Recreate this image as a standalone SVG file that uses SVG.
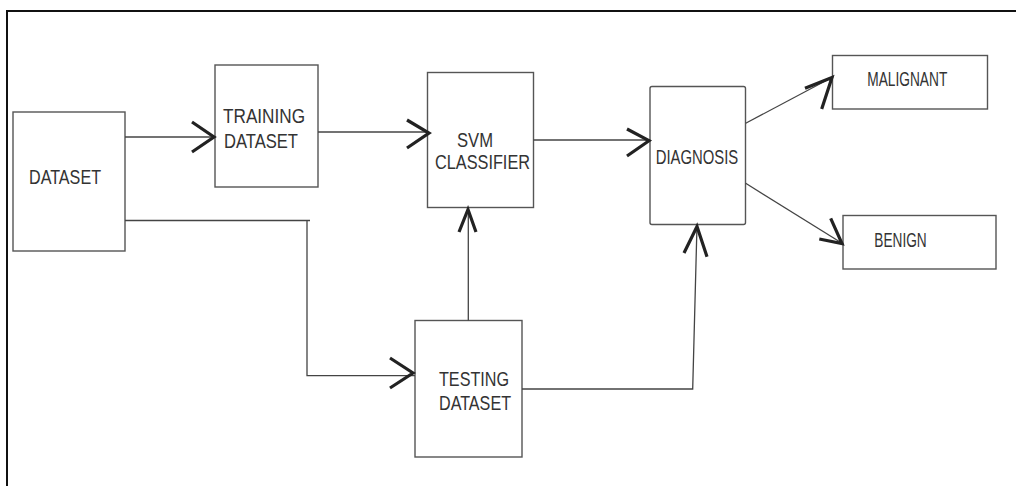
<svg xmlns="http://www.w3.org/2000/svg" width="1016" height="486" viewBox="0 0 1016 486">
  <style>
    .box { fill: #ffffff; stroke: #555555; stroke-width: 1.4; }
    .lbl { font-family: "Liberation Sans", Arial, sans-serif; font-size: 20px; fill: #333333; }
    .wire { fill: none; stroke: #444444; stroke-width: 1.3; }
    .head { fill: none; stroke: #222222; stroke-width: 3.2; stroke-linecap: butt; stroke-linejoin: miter; }
  </style>
  <rect width="1016" height="486" fill="#ffffff"/>
  <!-- frame: top and left edges only -->
  <path d="M7,486 V11 H1016" fill="none" stroke="#111111" stroke-width="2"/>

  <g id="dataset">
    <rect class="box" x="13" y="112" width="112" height="139"/>
    <text class="lbl" x="29" y="184" textLength="72" lengthAdjust="spacingAndGlyphs">DATASET</text>
  </g>
  <g id="training-dataset">
    <rect class="box" x="215" y="65" width="103" height="122"/>
    <text class="lbl" x="223" y="123" font-size="21" textLength="82" lengthAdjust="spacingAndGlyphs">TRAINING</text>
    <text class="lbl" x="224" y="147.5" font-size="21" textLength="74" lengthAdjust="spacingAndGlyphs">DATASET</text>
  </g>
  <g id="svm-classifier">
    <rect class="box" x="427.5" y="72.5" width="106" height="135"/>
    <text class="lbl" x="457" y="146.7" textLength="36" lengthAdjust="spacingAndGlyphs">SVM</text>
    <text class="lbl" x="435" y="169.3" textLength="95" lengthAdjust="spacingAndGlyphs">CLASSIFIER</text>
  </g>
  <g id="testing-dataset">
    <rect class="box" x="415" y="320.5" width="107" height="136.5"/>
    <text class="lbl" x="439" y="385.7" textLength="70" lengthAdjust="spacingAndGlyphs">TESTING</text>
    <text class="lbl" x="439" y="410" textLength="72" lengthAdjust="spacingAndGlyphs">DATASET</text>
  </g>
  <g id="diagnosis">
    <rect class="box" x="650" y="86.5" width="95.5" height="138" rx="2"/>
    <text class="lbl" x="655.7" y="164" textLength="82.6" lengthAdjust="spacingAndGlyphs">DIAGNOSIS</text>
  </g>
  <g id="malignant">
    <rect class="box" x="832.5" y="55.5" width="155" height="53.5"/>
    <text class="lbl" x="867.3" y="85.7" font-size="18" textLength="80" lengthAdjust="spacingAndGlyphs">MALIGNANT</text>
  </g>
  <g id="benign">
    <rect class="box" x="843" y="215.5" width="153" height="53.5"/>
    <text class="lbl" x="874.3" y="247.3" font-size="17.5" textLength="52.4" lengthAdjust="spacingAndGlyphs">BENIGN</text>
  </g>

  <g id="connectors">
    <!-- dataset to training -->
    <path class="wire" d="M125,137 H215"/>
    <path class="head" d="M192,122 L214,137 L192,152"/>
    <!-- dataset to testing -->
    <path class="wire" d="M125,220.5 H310 M307,220.5 V375.7 H415"/>
    <path class="head" d="M390,358 L413,373 L390,388"/>
    <!-- training to svm -->
    <path class="wire" d="M318,132 H428"/>
    <path class="head" d="M407,120 L429,133 L407,148"/>
    <!-- testing to svm -->
    <path class="wire" d="M468.3,320.5 V208"/>
    <path class="head" d="M459,232 L468,209.5 L476,232"/>
    <!-- svm to diagnosis -->
    <path class="wire" d="M533.5,140 H650"/>
    <path class="head" d="M627,129 L649,140.7 L627,156"/>
    <!-- testing to diagnosis -->
    <path class="wire" d="M522,389 H692.7 L697,225"/>
    <path class="head" d="M684,253 L697,226.5 L707,256.7"/>
    <!-- diagnosis to malignant -->
    <path class="wire" d="M745.7,123.3 L833.3,76.7"/>
    <path class="head" d="M805,88.3 L832,77.5 L821.7,109"/>
    <!-- diagnosis to benign -->
    <path class="wire" d="M745.7,183.3 L843.3,244"/>
    <path class="head" d="M830.7,218.3 L842,243.5 L819.3,239"/>
  </g>
</svg>
